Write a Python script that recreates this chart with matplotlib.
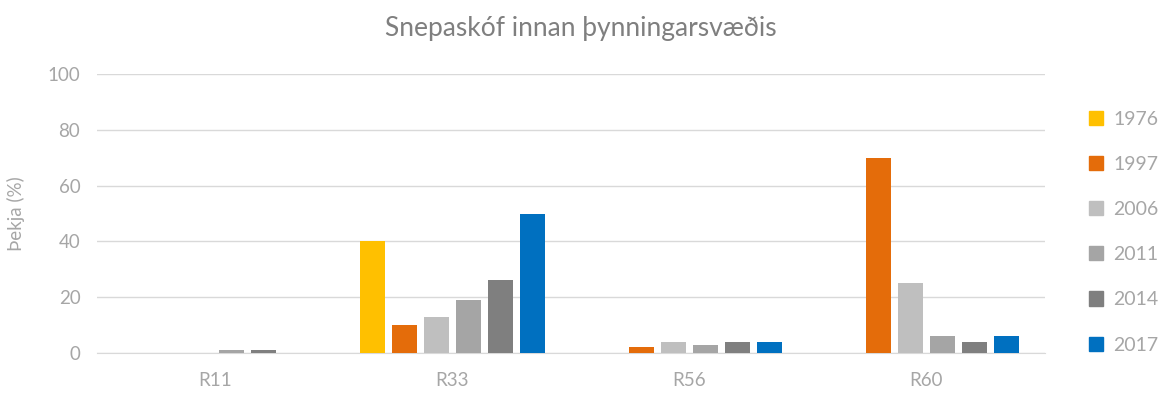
import matplotlib.pyplot as plt
import numpy as np
from matplotlib.patches import Patch

plt.rcParams['font.family'] = ['Lato', 'DejaVu Sans']

regions = ["R11", "R33", "R56", "R60"]
years = ["1976", "1997", "2006", "2011", "2014", "2017"]
cover = {
    "1976": [0, 40, 0, 0],
    "1997": [0, 10, 2, 70],
    "2006": [0, 13, 4, 25],
    "2011": [1, 19, 3, 6],
    "2014": [1, 26, 4, 4],
    "2017": [0, 50, 4, 6],
}
colors = ["#FFC000", "#E46C0A", "#BFBFBF", "#A5A5A5", "#7F7F7F", "#0070C0"]

fig = plt.figure(figsize=(11.62, 3.96), dpi=100)
ax = fig.add_axes([0.0835, 0.1086, 0.8155, 0.7044])

x = np.arange(len(regions))
step = 0.135
width = 0.105
for i, (yr, c) in enumerate(zip(years, colors)):
    ax.bar(x + (i - 2.5) * step, cover[yr], width, color=c, zorder=3)

ax.set_xlim(-0.5, len(regions) - 0.5)
ax.set_ylim(0, 100)
ax.set_yticks(range(0, 101, 20))
ax.set_xticks(x)
ax.set_xticklabels(regions)
ax.yaxis.grid(True, color="#D9D9D9", linewidth=1, zorder=0)
for s in ["top", "right", "left"]:
    ax.spines[s].set_visible(False)
ax.spines["bottom"].set_color("#D9D9D9")
ax.tick_params(axis="both", length=0, labelsize=13.5, labelcolor="#A6A6A6")
ax.tick_params(axis="x", pad=14)
ax.tick_params(axis="y", pad=12)
ax.set_ylabel("Þekja (%)", fontsize=13.5, color="#A6A6A6", labelpad=16)

fig.suptitle("Snepaskóf innan þynningarsvæðis", y=0.96, fontsize=19,
             color="#7F7F7F")

handles = [Patch(color=c, label=yr) for yr, c in zip(years, colors)]
leg = fig.legend(handles=handles, loc="upper left", bbox_to_anchor=(0.922, 0.765),
                 frameon=False, fontsize=14, handlelength=0.75, handleheight=0.75,
                 handletextpad=0.5, labelspacing=1.45)
for t in leg.get_texts():
    t.set_color("#A6A6A6")

fig.savefig("out.png", dpi=100)
